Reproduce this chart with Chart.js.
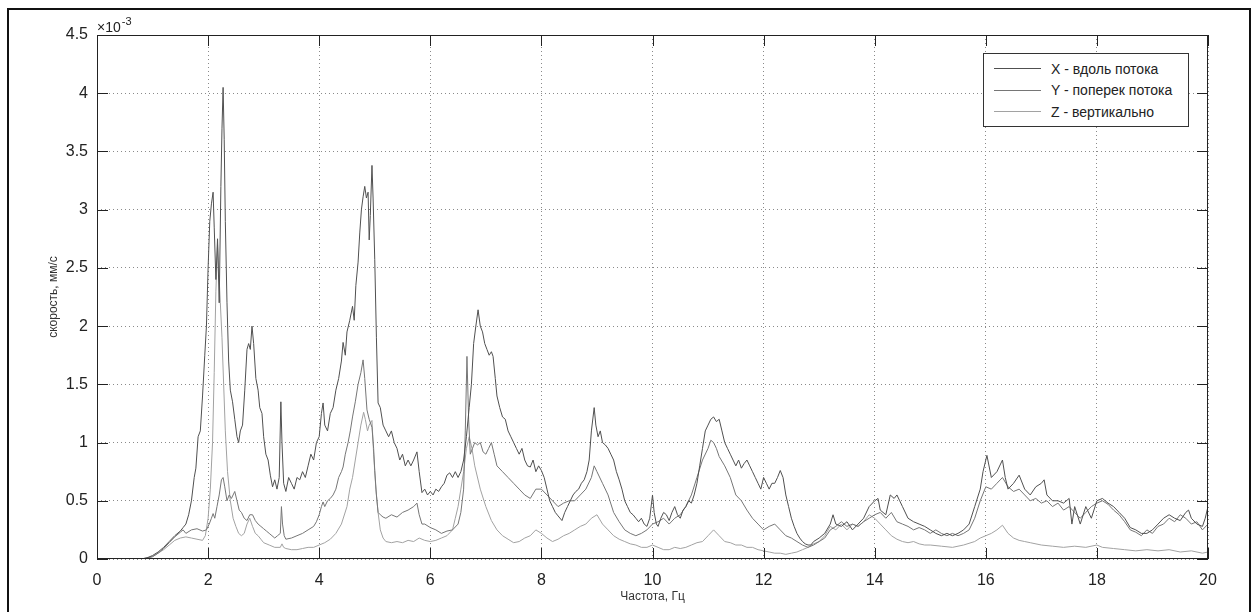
<!DOCTYPE html>
<html>
<head>
<meta charset="utf-8">
<script src="https://cdn.jsdelivr.net/npm/chart.js@4"></script>
<style>
  html, body { margin: 0; padding: 0; background: #fff; }
  #wrap { position: relative; width: 1255px; height: 612px; overflow: hidden; }
  #frame { position: absolute; left: 7px; top: 8px; width: 1240px; height: 640px; border: 2px solid #111; pointer-events: none; }
  #legend { position: absolute; left: 983px; top: 53px; width: 204px; height: 68px; border: 1px solid #333; background: #fff;
            font: 14px "Liberation Sans", Arial, sans-serif; color: #222; padding-top: 4px; box-sizing: content-box; }
  #legend .row { height: 21.5px; display: flex; align-items: center; }
  #legend .swatch { display: inline-block; width: 47px; height: 0; border-top: 1px solid; margin: 0 10px 0 10px; }
</style>
</head>
<body>
<div id="wrap">
  <canvas id="chart" width="1255" height="612"></canvas>
  <div id="frame"></div>
  <div id="legend"></div>
</div>
<script>
// frequency, Hz / speed x 1e-3 mm/s
const seriesNames = ["X - вдоль потока", "Y - поперек потока", "Z - вертикально"];
const seriesColors = ["#505050", "#767676", "#a2a2a2"];
const freqTicks = [0, 2, 4, 6, 8, 10, 12, 14, 16, 18, 20];
const speedTicks = [0, 0.5, 1, 1.5, 2, 2.5, 3, 3.5, 4, 4.5];

const speedX = [
  [0,0],[0.8,0],[0.9,0.01],[1.0,0.03],[1.1,0.06],[1.2,0.1],[1.3,0.15],[1.4,0.2],[1.5,0.24],[1.55,0.27],[1.6,0.3],[1.65,0.38],
  [1.7,0.5],[1.75,0.7],[1.78,0.78],[1.82,1.05],[1.86,1.1],[1.9,1.4],[1.94,1.75],[1.97,2.0],[2.0,2.5],[2.03,2.9],[2.06,3.05],
  [2.09,3.15],[2.11,2.85],[2.14,2.4],[2.17,2.75],[2.2,2.2],[2.23,3.2],[2.25,3.7],[2.27,4.05],[2.29,3.6],[2.31,2.9],[2.34,2.2],
  [2.37,1.7],[2.4,1.45],[2.44,1.35],[2.48,1.2],[2.52,1.05],[2.55,1.0],[2.58,1.1],[2.62,1.15],[2.66,1.45],[2.7,1.8],[2.73,1.85],
  [2.76,1.8],[2.79,2.0],[2.82,1.85],[2.86,1.55],[2.9,1.45],[2.93,1.3],[2.97,1.25],[3.0,1.05],[3.04,0.9],[3.08,0.85],[3.12,0.72],
  [3.16,0.62],[3.2,0.68],[3.24,0.6],[3.28,0.7],[3.31,1.35],[3.33,1.0],[3.36,0.65],[3.4,0.58],[3.45,0.7],[3.5,0.65],[3.55,0.6],
  [3.6,0.7],[3.65,0.68],[3.7,0.75],[3.75,0.7],[3.8,0.8],[3.85,0.9],[3.9,0.85],[3.95,1.0],[4.0,1.05],[4.04,1.25],[4.07,1.34],
  [4.1,1.15],[4.15,1.1],[4.2,1.25],[4.25,1.3],[4.3,1.45],[4.35,1.55],[4.4,1.7],[4.43,1.86],[4.47,1.75],[4.5,1.95],[4.55,2.05],
  [4.6,2.17],[4.63,2.05],[4.66,2.35],[4.7,2.55],[4.73,2.8],[4.76,3.0],[4.79,3.11],[4.82,3.2],[4.85,3.1],[4.88,3.15],[4.9,2.74],
  [4.92,2.95],[4.95,3.38],[4.97,3.1],[5.0,2.57],[5.03,1.9],[5.06,1.34],[5.1,1.3],[5.15,1.15],[5.2,1.1],[5.25,1.05],[5.3,1.1],
  [5.35,1.0],[5.4,0.95],[5.45,0.85],[5.5,0.9],[5.55,0.8],[5.6,0.85],[5.65,0.8],[5.7,0.85],[5.76,0.92],[5.8,0.75],[5.85,0.57],
  [5.9,0.6],[5.95,0.55],[6.0,0.58],[6.05,0.55],[6.1,0.6],[6.15,0.58],[6.2,0.62],[6.25,0.65],[6.3,0.72],[6.35,0.74],[6.4,0.7],
  [6.45,0.75],[6.5,0.7],[6.55,0.75],[6.6,0.85],[6.65,1.05],[6.7,1.3],[6.74,1.5],[6.78,1.85],[6.82,2.0],[6.86,2.14],[6.9,2.0],
  [6.94,1.95],[6.98,1.85],[7.02,1.8],[7.06,1.75],[7.1,1.78],[7.13,1.74],[7.17,1.55],[7.2,1.4],[7.25,1.3],[7.3,1.22],[7.35,1.2],
  [7.4,1.1],[7.45,1.05],[7.5,1.0],[7.55,0.95],[7.6,0.9],[7.65,0.95],[7.7,0.85],[7.75,0.8],[7.8,0.79],[7.85,0.85],[7.9,0.75],
  [7.95,0.8],[8.0,0.76],[8.05,0.7],[8.1,0.6],[8.15,0.5],[8.2,0.45],[8.25,0.4],[8.3,0.37],[8.37,0.33],[8.42,0.4],[8.47,0.45],
  [8.52,0.5],[8.57,0.55],[8.62,0.58],[8.67,0.6],[8.72,0.65],[8.77,0.68],[8.82,0.75],[8.86,0.85],[8.9,1.1],[8.95,1.3],[8.98,1.15],
  [9.02,1.05],[9.06,1.1],[9.1,1.0],[9.15,0.98],[9.2,0.95],[9.25,0.9],[9.3,0.85],[9.35,0.75],[9.4,0.68],[9.45,0.6],[9.5,0.5],
  [9.55,0.45],[9.6,0.4],[9.65,0.38],[9.7,0.35],[9.75,0.32],[9.8,0.35],[9.85,0.3],[9.9,0.28],[9.95,0.35],[10.0,0.55],[10.03,0.4],
  [10.07,0.3],[10.1,0.28],[10.15,0.35],[10.2,0.4],[10.25,0.38],[10.3,0.33],[10.35,0.4],[10.4,0.45],[10.45,0.38],[10.5,0.35],
  [10.55,0.42],[10.6,0.45],[10.65,0.5],[10.7,0.48],[10.75,0.55],[10.8,0.65],[10.85,0.8],[10.9,0.95],[10.95,1.1],[11.0,1.15],
  [11.05,1.2],[11.1,1.22],[11.15,1.18],[11.2,1.2],[11.25,1.1],[11.3,1.0],[11.35,0.95],[11.4,0.9],[11.45,0.85],[11.5,0.8],
  [11.55,0.85],[11.6,0.78],[11.65,0.82],[11.7,0.85],[11.75,0.8],[11.8,0.75],[11.85,0.7],[11.9,0.65],[11.95,0.6],[12.0,0.7],
  [12.05,0.65],[12.1,0.6],[12.15,0.65],[12.2,0.65],[12.25,0.7],[12.3,0.76],[12.35,0.7],[12.4,0.55],[12.45,0.45],[12.5,0.35],
  [12.55,0.28],[12.6,0.22],[12.65,0.18],[12.7,0.15],[12.75,0.13],[12.8,0.12],[12.85,0.12],[12.9,0.15],[13.0,0.18],[13.1,0.22],
  [13.2,0.3],[13.25,0.38],[13.3,0.3],[13.4,0.28],[13.5,0.32],[13.6,0.25],[13.7,0.3],[13.8,0.35],[13.9,0.45],[14.0,0.5],
  [14.06,0.52],[14.1,0.42],[14.2,0.38],[14.28,0.55],[14.35,0.52],[14.4,0.55],[14.45,0.5],[14.5,0.45],[14.6,0.35],[14.7,0.32],
  [14.8,0.3],[14.9,0.28],[15.0,0.25],[15.1,0.22],[15.2,0.2],[15.3,0.22],[15.4,0.2],[15.5,0.22],[15.6,0.25],[15.7,0.3],
  [15.8,0.45],[15.9,0.6],[15.95,0.75],[16.02,0.89],[16.1,0.7],[16.2,0.75],[16.3,0.85],[16.35,0.7],[16.4,0.6],[16.5,0.65],
  [16.6,0.72],[16.7,0.6],[16.8,0.55],[16.9,0.62],[17.0,0.65],[17.05,0.68],[17.1,0.55],[17.2,0.5],[17.3,0.5],[17.4,0.48],
  [17.5,0.52],[17.55,0.3],[17.6,0.45],[17.7,0.3],[17.8,0.45],[17.9,0.35],[18.0,0.5],[18.1,0.52],[18.2,0.48],[18.3,0.45],
  [18.4,0.4],[18.5,0.35],[18.6,0.27],[18.7,0.25],[18.8,0.22],[18.9,0.22],[19.0,0.25],[19.1,0.3],[19.2,0.35],[19.3,0.38],
  [19.4,0.35],[19.5,0.33],[19.6,0.4],[19.65,0.42],[19.7,0.35],[19.8,0.3],[19.9,0.28],[19.95,0.35],[20.0,0.45]
];

const speedY = [
  [0,0],[0.8,0],[0.9,0.01],[1.0,0.02],[1.1,0.05],[1.2,0.09],[1.3,0.14],[1.4,0.19],[1.5,0.23],[1.55,0.25],[1.6,0.22],[1.7,0.25],
  [1.8,0.26],[1.9,0.24],[1.97,0.25],[2.02,0.3],[2.06,0.35],[2.09,0.39],[2.12,0.35],[2.16,0.45],[2.2,0.55],[2.24,0.68],[2.27,0.7],
  [2.3,0.62],[2.34,0.5],[2.38,0.55],[2.42,0.52],[2.48,0.58],[2.52,0.5],[2.56,0.42],[2.6,0.4],[2.65,0.35],[2.7,0.33],[2.75,0.38],
  [2.8,0.38],[2.85,0.33],[2.9,0.3],[2.95,0.28],[3.0,0.26],[3.05,0.24],[3.1,0.22],[3.15,0.2],[3.2,0.18],[3.25,0.2],[3.3,0.22],
  [3.32,0.45],[3.34,0.3],[3.37,0.2],[3.4,0.17],[3.5,0.18],[3.6,0.2],[3.7,0.22],[3.8,0.25],[3.9,0.28],[3.95,0.32],[4.0,0.38],
  [4.04,0.45],[4.07,0.49],[4.1,0.45],[4.15,0.5],[4.2,0.52],[4.25,0.55],[4.3,0.6],[4.35,0.7],[4.4,0.75],[4.43,0.79],[4.47,0.9],
  [4.52,1.0],[4.56,1.1],[4.6,1.22],[4.65,1.35],[4.7,1.5],[4.75,1.6],[4.79,1.71],[4.82,1.55],[4.86,1.28],[4.9,1.2],[4.95,1.13],
  [4.98,0.95],[5.0,0.76],[5.03,0.55],[5.06,0.4],[5.1,0.38],[5.15,0.36],[5.2,0.35],[5.3,0.38],[5.4,0.36],[5.5,0.4],[5.6,0.42],
  [5.7,0.45],[5.76,0.48],[5.8,0.38],[5.85,0.3],[5.9,0.3],[6.0,0.27],[6.1,0.25],[6.2,0.22],[6.3,0.24],[6.4,0.25],[6.5,0.3],
  [6.55,0.4],[6.6,0.6],[6.63,1.1],[6.66,1.74],[6.69,1.2],[6.72,0.9],[6.76,0.95],[6.8,1.0],[6.85,0.98],[6.9,1.0],[6.95,0.92],
  [7.0,0.9],[7.05,0.95],[7.1,1.0],[7.15,0.9],[7.2,0.8],[7.3,0.75],[7.4,0.7],[7.5,0.65],[7.6,0.6],[7.7,0.55],[7.8,0.52],
  [7.9,0.6],[8.0,0.6],[8.1,0.55],[8.2,0.5],[8.3,0.45],[8.4,0.48],[8.5,0.5],[8.6,0.5],[8.7,0.55],[8.8,0.6],[8.9,0.7],[8.95,0.8],
  [9.0,0.75],[9.1,0.65],[9.2,0.55],[9.3,0.4],[9.4,0.32],[9.5,0.25],[9.6,0.22],[9.7,0.2],[9.8,0.22],[9.9,0.25],[10.0,0.3],
  [10.1,0.32],[10.2,0.35],[10.3,0.3],[10.4,0.35],[10.5,0.38],[10.6,0.45],[10.7,0.55],[10.8,0.7],[10.9,0.85],[11.0,0.95],
  [11.05,1.02],[11.1,1.0],[11.15,0.95],[11.2,0.88],[11.3,0.8],[11.4,0.7],[11.5,0.55],[11.6,0.5],[11.7,0.42],[11.8,0.35],
  [11.9,0.3],[12.0,0.25],[12.1,0.28],[12.2,0.3],[12.3,0.25],[12.4,0.2],[12.5,0.18],[12.6,0.15],[12.7,0.12],[12.8,0.1],
  [12.9,0.12],[13.0,0.15],[13.1,0.18],[13.2,0.25],[13.3,0.28],[13.4,0.32],[13.5,0.28],[13.6,0.3],[13.7,0.28],[13.8,0.32],
  [13.9,0.35],[14.0,0.38],[14.1,0.4],[14.2,0.35],[14.3,0.4],[14.4,0.32],[14.5,0.3],[14.6,0.28],[14.7,0.25],[14.8,0.27],
  [14.9,0.25],[15.0,0.22],[15.1,0.25],[15.2,0.22],[15.3,0.2],[15.4,0.22],[15.5,0.2],[15.6,0.22],[15.7,0.25],[15.8,0.35],
  [15.9,0.5],[16.0,0.62],[16.1,0.6],[16.2,0.65],[16.3,0.7],[16.4,0.62],[16.5,0.58],[16.6,0.6],[16.7,0.55],[16.8,0.5],
  [16.9,0.52],[17.0,0.48],[17.1,0.5],[17.2,0.45],[17.3,0.48],[17.4,0.42],[17.5,0.45],[17.6,0.4],[17.7,0.35],[17.8,0.4],
  [17.9,0.45],[18.0,0.48],[18.1,0.5],[18.2,0.47],[18.3,0.42],[18.4,0.38],[18.5,0.32],[18.6,0.25],[18.7,0.23],[18.8,0.2],
  [18.9,0.25],[19.0,0.22],[19.1,0.28],[19.2,0.3],[19.3,0.35],[19.4,0.32],[19.5,0.38],[19.6,0.35],[19.7,0.3],[19.8,0.32],
  [19.9,0.25],[20.0,0.3]
];

const speedZ = [
  [0,0],[0.8,0],[0.9,0.005],[1.0,0.02],[1.1,0.05],[1.2,0.08],[1.3,0.12],[1.4,0.16],[1.5,0.18],[1.6,0.19],[1.7,0.18],[1.8,0.17],
  [1.9,0.16],[1.95,0.2],[2.0,0.35],[2.04,0.6],[2.08,1.0],[2.11,1.6],[2.14,2.3],[2.17,2.7],[2.2,2.4],[2.22,2.2],[2.25,1.9],
  [2.28,1.5],[2.31,1.1],[2.35,0.75],[2.4,0.5],[2.45,0.35],[2.5,0.28],[2.55,0.22],[2.6,0.2],[2.65,0.22],[2.7,0.3],[2.75,0.35],
  [2.8,0.28],[2.85,0.22],[2.9,0.2],[2.95,0.17],[3.0,0.14],[3.1,0.12],[3.2,0.1],[3.3,0.1],[3.33,0.13],[3.36,0.1],[3.4,0.09],
  [3.5,0.08],[3.6,0.08],[3.7,0.09],[3.8,0.1],[3.9,0.1],[4.0,0.12],[4.1,0.14],[4.2,0.17],[4.3,0.22],[4.4,0.3],[4.5,0.45],
  [4.55,0.6],[4.6,0.7],[4.65,0.85],[4.7,1.0],[4.75,1.15],[4.8,1.26],[4.83,1.2],[4.87,1.1],[4.9,1.15],[4.95,1.19],[4.98,0.9],
  [5.02,0.6],[5.06,0.4],[5.1,0.25],[5.15,0.18],[5.2,0.15],[5.3,0.14],[5.4,0.15],[5.5,0.14],[5.6,0.16],[5.7,0.15],[5.8,0.18],
  [5.9,0.16],[6.0,0.15],[6.1,0.16],[6.2,0.18],[6.3,0.2],[6.4,0.25],[6.45,0.35],[6.5,0.45],[6.55,0.6],[6.6,0.75],[6.65,0.95],
  [6.7,1.05],[6.75,0.95],[6.8,0.8],[6.9,0.6],[7.0,0.45],[7.1,0.33],[7.2,0.25],[7.3,0.2],[7.4,0.17],[7.5,0.14],[7.6,0.15],
  [7.7,0.18],[7.8,0.2],[7.9,0.25],[8.0,0.22],[8.1,0.18],[8.2,0.15],[8.3,0.17],[8.4,0.2],[8.5,0.22],[8.6,0.25],[8.7,0.28],
  [8.8,0.3],[8.9,0.35],[9.0,0.38],[9.1,0.3],[9.2,0.25],[9.3,0.2],[9.4,0.17],[9.5,0.15],[9.6,0.13],[9.7,0.12],[9.8,0.1],
  [9.9,0.1],[10.0,0.12],[10.1,0.1],[10.2,0.08],[10.3,0.08],[10.4,0.1],[10.5,0.09],[10.6,0.1],[10.7,0.12],[10.8,0.14],
  [10.9,0.15],[11.0,0.2],[11.1,0.25],[11.2,0.2],[11.3,0.15],[11.4,0.14],[11.5,0.12],[11.6,0.12],[11.7,0.1],[11.8,0.1],
  [11.9,0.08],[12.0,0.07],[12.1,0.06],[12.2,0.05],[12.3,0.05],[12.4,0.04],[12.5,0.05],[12.6,0.06],[12.7,0.08],[12.8,0.1],
  [12.9,0.13],[13.0,0.15],[13.1,0.2],[13.2,0.28],[13.3,0.25],[13.4,0.3],[13.5,0.25],[13.6,0.3],[13.7,0.28],[13.8,0.32],
  [13.9,0.38],[14.0,0.35],[14.1,0.3],[14.2,0.25],[14.3,0.2],[14.4,0.17],[14.5,0.15],[14.6,0.14],[14.7,0.15],[14.8,0.13],
  [14.9,0.12],[15.0,0.12],[15.2,0.11],[15.4,0.1],[15.6,0.12],[15.8,0.15],[15.9,0.18],[16.0,0.2],[16.1,0.22],[16.2,0.25],
  [16.3,0.29],[16.4,0.22],[16.5,0.18],[16.6,0.16],[16.7,0.15],[16.8,0.14],[17.0,0.12],[17.2,0.11],[17.4,0.1],[17.6,0.11],
  [17.8,0.1],[18.0,0.12],[18.1,0.1],[18.3,0.09],[18.5,0.08],[18.7,0.07],[18.9,0.08],[19.1,0.07],[19.3,0.08],[19.5,0.06],
  [19.7,0.07],[19.9,0.05],[20.0,0.06]
];

const font = "'Liberation Sans', Arial, sans-serif";

const toPoints = arr => arr.map(p => ({ x: p[0], y: p[1] }));

// box, inward ticks and the x10^-3 multiplier, MATLAB style
const matlabAxes = {
  id: "matlabAxes",
  afterDraw(chart) {
    const { ctx, chartArea: a, scales: { x, y } } = chart;
    ctx.save();
    ctx.strokeStyle = "#222";
    ctx.lineWidth = 1;
    ctx.strokeRect(a.left + 0.5, a.top + 0.5, a.right - a.left - 1, a.bottom - a.top - 1);
    ctx.beginPath();
    freqTicks.forEach(v => {
      const px = Math.round(x.getPixelForValue(v)) + 0.5;
      ctx.moveTo(px, a.bottom); ctx.lineTo(px, a.bottom - 11);
      ctx.moveTo(px, a.top); ctx.lineTo(px, a.top + 11);
    });
    speedTicks.forEach(v => {
      const py = Math.round(y.getPixelForValue(v)) + 0.5;
      ctx.moveTo(a.left, py); ctx.lineTo(a.left + 11, py);
      ctx.moveTo(a.right, py); ctx.lineTo(a.right - 11, py);
    });
    ctx.stroke();
    ctx.fillStyle = "#222";
    ctx.font = "14px " + font;
    ctx.fillText("×10", a.left, a.top - 3);
    const w = ctx.measureText("×10").width;
    ctx.font = "11px " + font;
    ctx.fillText("-3", a.left + w + 1, a.top - 10);
    ctx.restore();
  }
};

const chart = new Chart(document.getElementById("chart"), {
  type: "line",
  data: {
    datasets: [speedX, speedY, speedZ].map((s, i) => ({
      label: seriesNames[i],
      data: toPoints(s),
      borderColor: seriesColors[i],
      borderWidth: 1,
      pointRadius: 0,
      tension: 0,
      fill: false
    }))
  },
  options: {
    responsive: false,
    animation: false,
    layout: { padding: { left: 46, right: 47, top: 35, bottom: 8 } },
    plugins: { legend: { display: false }, tooltip: { enabled: false } },
    scales: {
      x: {
        type: "linear",
        min: 0,
        max: 20,
        afterBuildTicks: s => { s.ticks = freqTicks.map(v => ({ value: v })); },
        ticks: { color: "#222", font: { family: font, size: 16 }, padding: 12, maxRotation: 0, callback: v => String(v) },
        grid: { color: "#8a8a8a", drawTicks: false },
        border: { display: false, dash: [1, 3] },
        title: { display: true, text: "Частота, Гц", color: "#333", font: { family: font, size: 12 }, padding: 0 },
        afterFit: s => { s.height = 45; }
      },
      y: {
        min: 0,
        max: 4.5,
        afterBuildTicks: s => { s.ticks = speedTicks.map(v => ({ value: v })); },
        ticks: { color: "#222", font: { family: font, size: 16 }, padding: 9, callback: v => String(v) },
        grid: { color: "#8a8a8a", drawTicks: false },
        border: { display: false, dash: [1, 3] },
        title: { display: true, text: "скорость, мм/с", color: "#333", font: { family: font, size: 12 }, padding: 0 },
        afterFit: s => { s.width = 51; }
      }
    }
  },
  plugins: [matlabAxes]
});

document.getElementById("legend").innerHTML = chart.data.datasets.map(d =>
  `<div class="row"><span class="swatch" style="border-color:${d.borderColor}"></span>${d.label}</div>`
).join("");
</script>
</body>
</html>
